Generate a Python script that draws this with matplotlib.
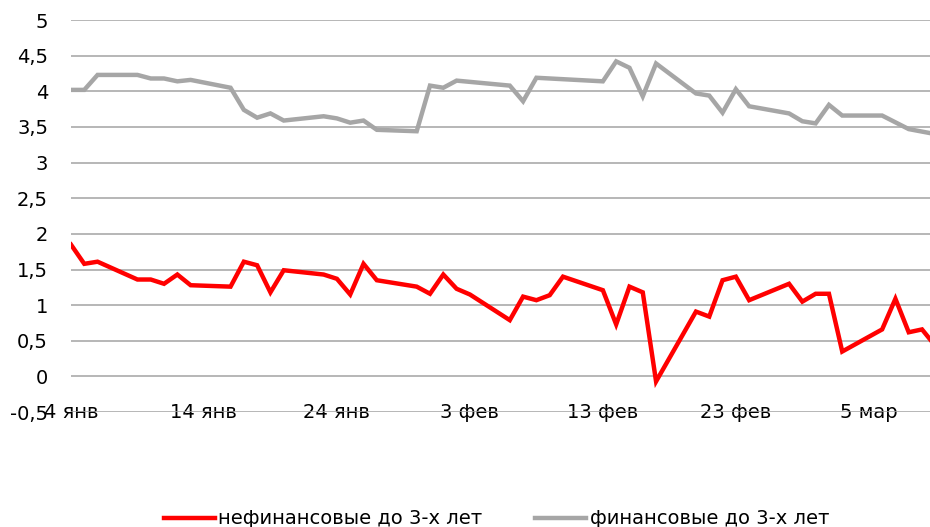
import pandas as pd
import numpy as np
import matplotlib
matplotlib.use("Agg")
import matplotlib.pyplot as plt
import matplotlib.dates as mdates

# Red series: non-financial, up to 3 years
nonfin_dates = ["2017-01-04", "2017-01-05", "2017-01-06", "2017-01-09", "2017-01-10",
                "2017-01-11", "2017-01-12", "2017-01-13", "2017-01-16", "2017-01-17",
                "2017-01-18", "2017-01-19", "2017-01-20", "2017-01-23", "2017-01-24",
                "2017-01-25", "2017-01-26", "2017-01-27", "2017-01-30", "2017-01-31",
                "2017-02-01", "2017-02-02", "2017-02-03", "2017-02-06", "2017-02-07",
                "2017-02-08", "2017-02-09", "2017-02-10", "2017-02-13", "2017-02-14",
                "2017-02-15", "2017-02-16", "2017-02-17", "2017-02-20", "2017-02-21",
                "2017-02-22", "2017-02-23", "2017-02-24", "2017-02-27", "2017-02-28",
                "2017-03-01", "2017-03-02", "2017-03-03", "2017-03-06", "2017-03-07",
                "2017-03-08", "2017-03-09", "2017-03-10"]
nonfin_values = [1.85, 1.58, 1.61, 1.36, 1.36, 1.30, 1.43, 1.28, 1.26, 1.61,
                 1.56, 1.18, 1.49, 1.43, 1.37, 1.15, 1.58, 1.35, 1.26, 1.16,
                 1.43, 1.23, 1.15, 0.79, 1.12, 1.07, 1.14, 1.40, 1.21, 0.73,
                 1.26, 1.18, -0.07, 0.91, 0.84, 1.35, 1.40, 1.07, 1.30, 1.05,
                 1.16, 1.16, 0.35, 0.66, 1.09, 0.62, 0.66, 0.43]

# Gray series: financial, up to 3 years
fin_dates = ["2017-01-04", "2017-01-05", "2017-01-06", "2017-01-09", "2017-01-10",
             "2017-01-11", "2017-01-12", "2017-01-13", "2017-01-16", "2017-01-17",
             "2017-01-18", "2017-01-19", "2017-01-20", "2017-01-23", "2017-01-24",
             "2017-01-25", "2017-01-26", "2017-01-27", "2017-01-30", "2017-01-31",
             "2017-02-01", "2017-02-02", "2017-02-06", "2017-02-07", "2017-02-08",
             "2017-02-13", "2017-02-14", "2017-02-15", "2017-02-16", "2017-02-17",
             "2017-02-20", "2017-02-21", "2017-02-22", "2017-02-23", "2017-02-24",
             "2017-02-27", "2017-02-28", "2017-03-01", "2017-03-02", "2017-03-03",
             "2017-03-06", "2017-03-08", "2017-03-10"]
fin_values = [4.02, 4.02, 4.23, 4.23, 4.18, 4.18, 4.14, 4.16, 4.05, 3.74,
              3.63, 3.69, 3.59, 3.65, 3.62, 3.56, 3.59, 3.46, 3.44, 4.08,
              4.05, 4.15, 4.08, 3.86, 4.19, 4.14, 4.42, 4.33, 3.93, 4.39,
              3.97, 3.94, 3.70, 4.03, 3.79, 3.69, 3.58, 3.55, 3.81, 3.66,
              3.66, 3.47, 3.40]

series_names = ["нефинансовые до 3-х лет", "финансовые до 3-х лет"]
months_ru = ["янв", "фев", "мар", "апр", "май", "июн",
             "июл", "авг", "сен", "окт", "ноя", "дек"]
y_ticks = [-0.5, 0, 0.5, 1, 1.5, 2, 2.5, 3, 3.5, 4, 4.5, 5]

plt.rcParams['font.family'] = ['DejaVu Sans']

fig = plt.figure(figsize=(9.3, 5.27), dpi=100)
ax = fig.add_axes([0.0763, 0.218, 0.9237, 0.744])

x_red = pd.to_datetime(nonfin_dates)
x_gray = pd.to_datetime(fin_dates)
ax.plot(x_red, nonfin_values, color='#ff0000', lw=3.2, label=series_names[0],
        solid_joinstyle='miter', zorder=3)
ax.plot(x_gray, fin_values, color='#a6a6a6', lw=3.2, label=series_names[1],
        solid_joinstyle='miter', zorder=3)

start = mdates.date2num(pd.Timestamp("2017-01-04"))
ax.set_xlim(start, start + 64.6)
ax.set_ylim(-0.5, 5)

# x ticks every 10 days from the first date
tick_dates = pd.date_range("2017-01-04", "2017-03-10", freq="10D")
ax.set_xticks(mdates.date2num(tick_dates))
ax.set_xticklabels([f"{d.day} {months_ru[d.month - 1]}" for d in tick_dates])
for lab in ax.get_xticklabels():
    lab.set_va('center')

ax.set_yticks(y_ticks)
ax.set_yticklabels([f"{v:g}".replace('.', ',') for v in y_ticks])

ax.yaxis.grid(True, color='#a3a3a3', lw=1.1)
ax.set_axisbelow(True)
for s in ax.spines.values():
    s.set_visible(False)
ax.tick_params(axis='x', length=0, pad=0, labelsize=14)
ax.tick_params(axis='y', length=0, pad=16.5, labelsize=14)

fig.legend(loc='lower center', bbox_to_anchor=(0.534, -0.036), ncol=2,
           frameon=False, fontsize=14, handlelength=2.6, handletextpad=0.2,
           columnspacing=2.7)

fig.savefig("out.png", dpi=100)
